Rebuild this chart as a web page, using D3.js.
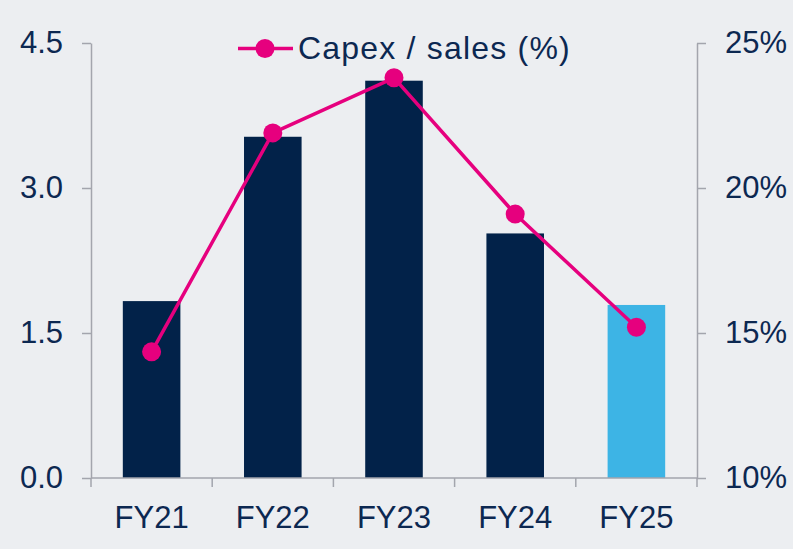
<!DOCTYPE html>
<html>
<head>
<meta charset="utf-8">
<script src="https://cdn.jsdelivr.net/npm/d3@7"></script>
<style>
  body { margin: 0; background: #eceef1; }
  svg { display: block; font-family: "Liberation Sans", Arial, sans-serif; }
</style>
</head>
<body>
<svg id="chart" width="793" height="549"></svg>
<script>
// data
const years = ["FY21", "FY22", "FY23", "FY24", "FY25"];
const capex = [1.83, 3.53, 4.11, 2.53, 1.79];
const capexSales = [14.35, 21.9, 23.8, 19.1, 15.2];
const leftTicks = [0, 1.5, 3.0, 4.5];
const rightTicks = [10, 15, 20, 25];

const svg = d3.select("#chart");
const width = +svg.attr("width"), height = +svg.attr("height");
const margin = {top: 43, right: 96, bottom: 71, left: 91};

const axisColor = "#a3a5ad";
const textColor = "#0c2851";
const navy = "#022249";
const lightBlue = "#3db4e5";
const pink = "#e6007e";

svg.append("rect").attr("width", width).attr("height", height).attr("fill", "#eceef1");

const x = d3.scaleBand()
  .domain(years)
  .range([margin.left, width - margin.right])
  .paddingInner(0.525)
  .paddingOuter(0.2625);

const y = d3.scaleLinear()
  .domain([0, 4.5])
  .range([height - margin.bottom, margin.top]);

const y2 = d3.scaleLinear()
  .domain([10, 25])
  .range([height - margin.bottom, margin.top]);

// bars
svg.append("g").selectAll("rect").data(years).join("rect")
  .attr("x", d => x(d))
  .attr("y", (d, i) => y(capex[i]))
  .attr("width", x.bandwidth())
  .attr("height", (d, i) => y(0) - y(capex[i]))
  .attr("fill", (d, i) => i == years.length - 1 ? lightBlue : navy);

const styleAxis = g => {
  g.selectAll("path, line").attr("stroke", axisColor).attr("stroke-width", 1.5);
  g.selectAll("text").attr("fill", textColor).attr("font-size", 31);
}

// left axis
svg.append("g")
  .attr("transform", `translate(${margin.left},0)`)
  .call(d3.axisLeft(y).tickValues(leftTicks).tickFormat(d3.format(".1f")).tickSize(9).tickSizeOuter(0).tickPadding(19))
  .call(styleAxis);

// right axis
svg.append("g")
  .attr("transform", `translate(${width - margin.right},0)`)
  .call(d3.axisRight(y2).tickValues(rightTicks).tickFormat(d => d + "%").tickSize(9).tickSizeOuter(0).tickPadding(19))
  .call(styleAxis);

// bottom axis: ticks sit between categories
const bounds = d3.range(years.length + 1).map(i => margin.left + i * (width - margin.left - margin.right) / years.length);
const xAxis = svg.append("g").attr("transform", `translate(0,${y(0)})`);
xAxis.append("line")
  .attr("x1", margin.left).attr("x2", width - margin.right)
  .attr("stroke", axisColor).attr("stroke-width", 1.5);
xAxis.selectAll(".tk").data(bounds).join("line")
  .attr("class", "tk")
  .attr("x1", d => d).attr("x2", d => d)
  .attr("y1", 0).attr("y2", 9)
  .attr("stroke", axisColor).attr("stroke-width", 1.5);
xAxis.selectAll("text").data(years).join("text")
  .attr("x", d => x(d) + x.bandwidth() / 2)
  .attr("y", 49.5)
  .attr("text-anchor", "middle")
  .attr("font-size", 31)
  .attr("fill", textColor)
  .text(d => d);

// line series
const line = d3.line()
  .x(d => x(d[0]) + x.bandwidth() / 2)
  .y(d => y2(d[1]));
const pts = years.map((d, i) => [d, capexSales[i]]);
svg.append("path")
  .datum(pts)
  .attr("d", line)
  .attr("fill", "none")
  .attr("stroke", pink)
  .attr("stroke-width", 3.5);
svg.append("g").selectAll("circle").data(pts).join("circle")
  .attr("cx", d => x(d[0]) + x.bandwidth() / 2)
  .attr("cy", d => y2(d[1]))
  .attr("r", 9.5)
  .attr("fill", pink);

// legend
const legend = svg.append("g").attr("transform", "translate(238,48.5)");
legend.append("line").attr("x1", 0).attr("x2", 55).attr("stroke", pink).attr("stroke-width", 3.5);
legend.append("circle").attr("cx", 27).attr("r", 9.5).attr("fill", pink);
legend.append("text")
  .attr("x", 60).attr("y", 10.5)
  .attr("font-size", 32)
  .attr("letter-spacing", 1.2)
  .attr("fill", textColor)
  .text("Capex / sales (%)");
</script>
</body>
</html>
